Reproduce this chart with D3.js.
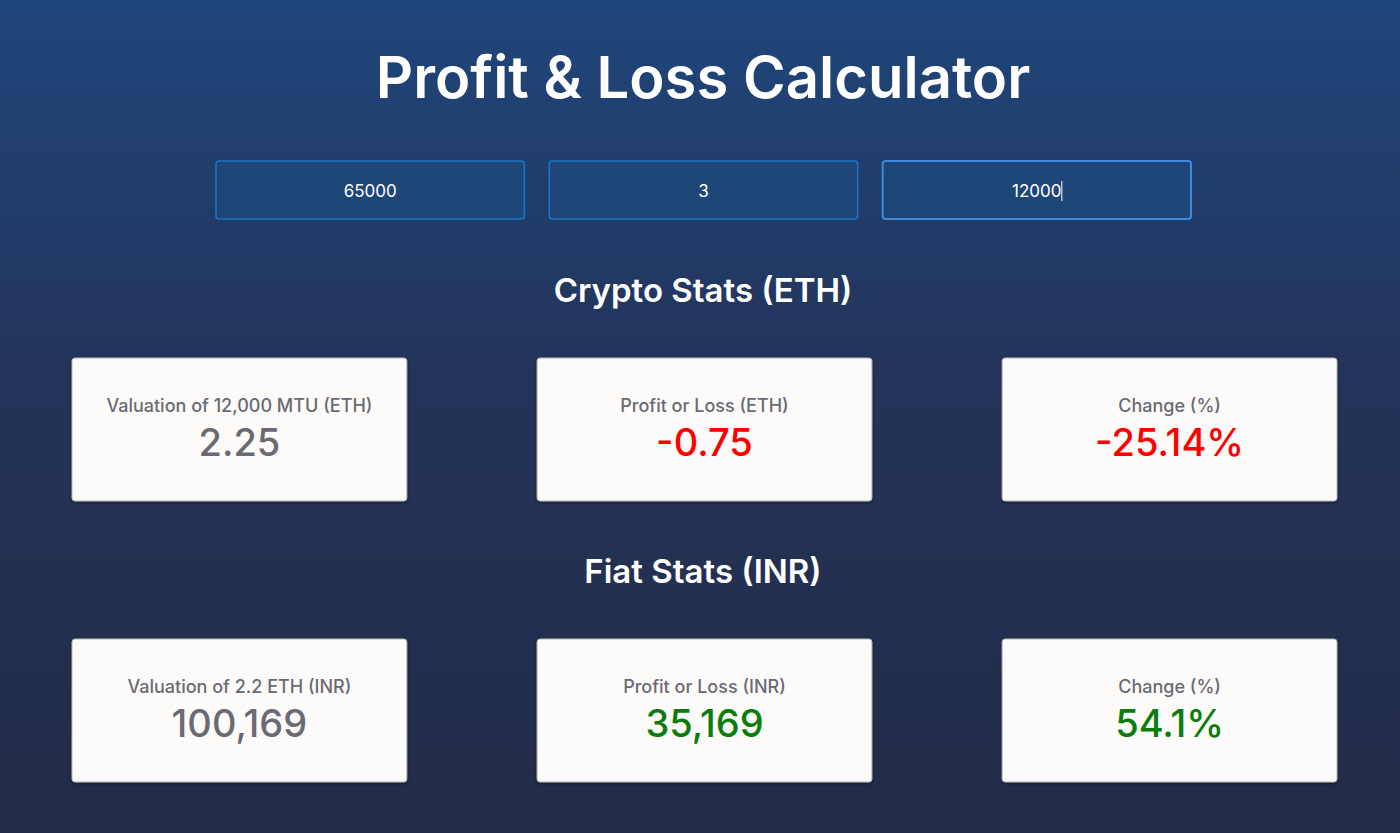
<!DOCTYPE html>
<html><head><meta charset="utf-8">
<script src="https://cdn.jsdelivr.net/npm/d3@7"></script>
<style>body{margin:0;overflow:hidden}</style>
</head><body><svg id="c" width="1400" height="833"></svg>
<script>
const title = "Profit & Loss Calculator";
const inputValues = ["65000", "3", "12000|"];
const sectionTitles = ["Crypto Stats (ETH)", "Fiat Stats (INR)"];
const cardLabels = [["Valuation of 12,000 MTU (ETH)", "Profit or Loss (ETH)", "Change (%)"],
                    ["Valuation of 2.2 ETH (INR)", "Profit or Loss (INR)", "Change (%)"]];
const cardValues = [["2.25", "-0.75", "-25.14%"], ["100,169", "35,169", "54.1%"]];
const cardTones = [["neutral", "loss", "loss"], ["neutral", "gain", "gain"]];

const svg = d3.select("#c");
const font = "Inter, 'Open Sans', sans-serif";
const defs = svg.append("defs");
const g = defs.append("linearGradient").attr("id","bg").attr("x1",0).attr("y1",0).attr("x2",0).attr("y2",1);
g.append("stop").attr("offset","0%").attr("stop-color","#1f467b");
g.append("stop").attr("offset","45%").attr("stop-color","#23345a");
g.append("stop").attr("offset","100%").attr("stop-color","#232b47");
const f = defs.append("filter").attr("id","sh").attr("x","-5%").attr("y","-5%").attr("width","110%").attr("height","115%");
f.append("feDropShadow").attr("dx",0).attr("dy",1).attr("stdDeviation",1.5).attr("flood-color","#000").attr("flood-opacity",0.5);
svg.append("rect").attr("width",1400).attr("height",833).attr("fill","url(#bg)");

svg.append("text").attr("x",703).attr("y",98).attr("text-anchor","middle")
  .attr("font-family",font).attr("font-size",58).attr("font-weight",600).attr("fill","#fff").text(title);

const xi = d3.scaleBand().domain(d3.range(inputValues.length)).range([216,1191]).paddingInner(0.075);
const ig = svg.selectAll(".inp").data(inputValues).join("g").attr("transform",(d,i)=>`translate(${xi(i)},161)`);
ig.append("rect").attr("width",xi.bandwidth()).attr("height",58).attr("rx",3)
  .attr("fill","#1f4679").attr("stroke",(d,i)=>i===2?"#3d8be0":"#1479c9").attr("stroke-width",(d,i)=>i===2?2:1.5);
ig.append("text").attr("x",xi.bandwidth()/2).attr("y",36).attr("text-anchor","middle")
  .attr("font-family",font).attr("font-size",17).attr("fill","#fff").text(d=>d.replace("|",""));
ig.filter((d,i)=>d.includes("|")).append("line")
  .attr("x1",xi.bandwidth()/2+25).attr("x2",xi.bandwidth()/2+25).attr("y1",20).attr("y2",40).attr("stroke","#fff");

const secY = d3.scaleOrdinal().domain([0,1]).range([302,583]);
const cardY = d3.scaleOrdinal().domain([0,1]).range([358,639]);
const xc = d3.scaleBand().domain([0,1,2]).range([72,1337]).paddingInner(0.28);
const toneColor = {neutral:"#6b6a73", loss:"#ff0000", gain:"#0a7d0a"};

sectionTitles.forEach((t,s)=>{
  svg.append("text").attr("x",703).attr("y",secY(s)).attr("text-anchor","middle")
    .attr("font-family",font).attr("font-size",33).attr("font-weight",600).attr("fill","#fff").text(t);
  const cg = svg.selectAll(".card"+s).data(d3.range(3)).join("g").attr("transform",i=>`translate(${xc(i)},${cardY(s)})`);
  cg.append("rect").attr("width",xc.bandwidth()).attr("height",143).attr("rx",3).attr("fill","#fcfbf9")
    .attr("stroke","#b5b5b5").attr("filter","url(#sh)");
  cg.append("text").attr("x",xc.bandwidth()/2).attr("y",54).attr("text-anchor","middle")
    .attr("font-family",font).attr("font-size",18).attr("font-weight",500).attr("fill","#6b6a73").text(i=>cardLabels[s][i]);
  cg.append("text").attr("x",xc.bandwidth()/2).attr("y",98).attr("text-anchor","middle")
    .attr("font-family",font).attr("font-size",38).attr("font-weight",500).attr("fill",i=>toneColor[cardTones[s][i]]).text(i=>cardValues[s][i]);
});
</script></body></html>
